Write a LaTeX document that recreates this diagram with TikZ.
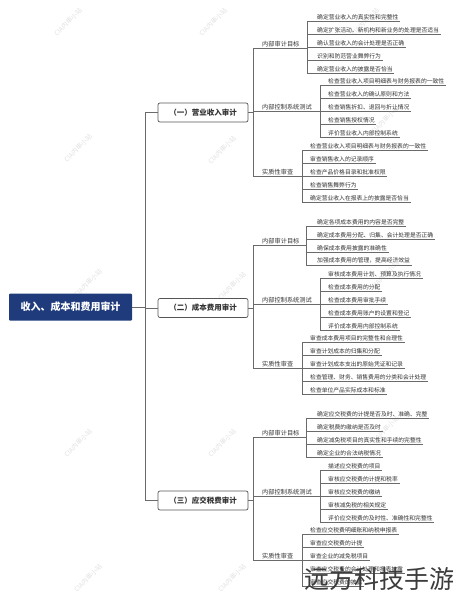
\documentclass[tikz,border=0pt]{standalone}
\usepackage{fontspec}
\setmainfont{Noto Sans CJK SC}
\definecolor{linec}{HTML}{6A6A6A}
\definecolor{txt}{HTML}{333333}
\definecolor{navy}{HTML}{1F3B7C}
\definecolor{secb}{HTML}{555555}
\definecolor{wmc}{HTML}{E2E2E2}
\definecolor{bigc}{HTML}{3C3C3C}
\tikzset{
  conn/.style={draw=linec, line width=0.8pt},
  ul/.style={draw=linec, line width=0.5pt},
  leaf/.style={anchor=south west, inner xsep=1.5pt, inner ysep=1.2pt, text=txt,
    font=\fontsize{5.8}{6}\selectfont},
  subl/.style={anchor=south west, inner xsep=0pt, inner ysep=1.2pt, text=txt,
    font=\fontsize{6.2}{7}\selectfont},
  secbox/.style={draw=secb, line width=0.7pt, rounded corners=2pt, fill=white,
    minimum width=90pt, minimum height=19pt, inner sep=0pt, text=txt,
    font=\bfseries\fontsize{7.5}{9}\selectfont},
  rootbox/.style={fill=navy, rounded corners=1pt, minimum width=123pt,
    minimum height=27pt, inner sep=0pt, text=white,
    font=\bfseries\fontsize{10}{12}\selectfont},
  wmark/.style={rotate=45, text=wmc, font=\fontsize{6.5}{7}\selectfont},
  bigmark/.style={text=bigc, font=\fontsize{25}{28}\selectfont, inner sep=0pt},
}
% leaf: name, bracket x, text x, underline y, text
\newcommand\lfnode[5]{%
  \node[leaf] (#1) at (#3-1.5,#4) {#5};
  \draw[ul] (#2,#4) -- (#1.south east);}
% sub label: name, bracket x, underline y, text
\newcommand\subnode[4]{%
  \node[subl] (#1) at (262,#3) {#4};
  \draw[ul] (253,#3) -- (#2,#3);}
\begin{document}
\begin{tikzpicture}[x=1pt,y=-1pt]
\useasboundingbox[fill=white] (0,0) rectangle (456,600);
% faint watermarks
\foreach \p in {(68,22),(213,22),(365,22),(78,148),(222,150),(385,120),
  (88,283),(232,286),(385,275),(78,443),(222,443),(385,430),(88,578),(232,578)}
  \node[wmark] at \p {CIA内审小站};

% root and sections
\node[rootbox] (root) at (70.5,307) {收入、成本和费用审计};
\node[secbox] (s1) at (203,112.5) {（一）营业收入审计};
\node[secbox] (s2) at (203,308) {（二）成本费用审计};
\node[secbox] (s3) at (203,500.5) {（三）应交税费审计};
\coordinate (mtop) at (145,112.5);
\coordinate (mbot) at (145,500.5);
\draw[conn] (mtop) -- (mbot);
\draw[conn] (root.east) -- (145,307);
\draw[conn] (mtop) -- (s1.west);
\draw[conn] (145,308) -- (s2.west);
\draw[conn] (mbot) -- (s3.west);

% ===== Section 1 =====
\draw[conn] (s1.east) -- (253,112.5);
\draw[ul] (253,48) -- (253,176);
\subnode{a1}{307}{48}{内部审计目标}
\draw[ul] (307,21) -- (307,73);
\lfnode{a11}{307}{317}{21}{确定营业收入的真实性和完整性}
\lfnode{a12}{307}{317}{34}{确定扩张活动、新机构和新业务的处理是否适当}
\lfnode{a13}{307}{317}{47.5}{确认营业收入的会计处理是否正确}
\lfnode{a14}{307}{317}{60}{识别和防范营业舞弊行为}
\lfnode{a15}{307}{317}{73}{确定营业收入的披露是否恰当}

\subnode{a2}{320}{111}{内部控制系统测试}
\draw[ul] (320,85) -- (320,137);
\lfnode{a21}{320}{328}{85}{检查营业收入项目明细表与财务报表的一致性}
\lfnode{a22}{320}{328}{98}{检查营业收入的确认原则和方法}
\lfnode{a23}{320}{328}{111}{检查销售折扣、退回与折让情况}
\lfnode{a24}{320}{328}{124}{检查销售授权情况}
\lfnode{a25}{320}{328}{137}{评价营业收入内部控制系统}

\subnode{a3}{302}{176}{实质性审查}
\draw[ul] (302,150) -- (302,202);
\lfnode{a31}{302}{310}{150}{检查营业收入项目明细表与财务报表的一致性}
\lfnode{a32}{302}{310}{163}{审查销售收入的记录顺序}
\lfnode{a33}{302}{310}{176}{检查产品价格目录和批准权限}
\lfnode{a34}{302}{310}{189}{检查销售舞弊行为}
\lfnode{a35}{302}{310}{202}{确定营业收入在报表上的披露是否恰当}

% ===== Section 2 =====
\draw[conn] (s2.east) -- (253,308);
\draw[ul] (253,245.5) -- (253,368);
\subnode{b1}{306}{245.5}{内部审计目标}
\draw[ul] (306,226) -- (306,265);
\lfnode{b11}{306}{317}{226}{确定各项成本费用的内容是否完整}
\lfnode{b12}{306}{317}{239}{确定成本费用分配、归集、会计处理是否正确}
\lfnode{b13}{306}{317}{252}{确保成本费用披露的准确性}
\lfnode{b14}{306}{317}{265}{加强成本费用的管理，提高经济效益}

\subnode{b2}{320}{304}{内部控制系统测试}
\draw[ul] (320,278) -- (320,330);
\lfnode{b21}{320}{328}{278}{审核成本费用计划、预算及执行情况}
\lfnode{b22}{320}{328}{291}{检查成本费用的分配}
\lfnode{b23}{320}{328}{304}{检查成本费用审批手续}
\lfnode{b24}{320}{328}{317}{检查成本费用账户的设置和登记}
\lfnode{b25}{320}{328}{330}{评价成本费用内部控制系统}

\subnode{b3}{302}{368}{实质性审查}
\draw[ul] (302,342) -- (302,394);
\lfnode{b31}{302}{310}{342}{审查成本费用项目的完整性和合理性}
\lfnode{b32}{302}{310}{355}{审查计划成本的归集和分配}
\lfnode{b33}{302}{310}{368}{审查计划成本支出的原始凭证和记录}
\lfnode{b34}{302}{310}{381}{检查管理、财务、销售费用的分类和会计处理}
\lfnode{b35}{302}{310}{394}{检查单位产品实际成本和标准}

% ===== Section 3 =====
\draw[conn] (s3.east) -- (253,500.5);
\draw[ul] (253,437.5) -- (253,560);
\subnode{c1}{306}{437.5}{内部审计目标}
\draw[ul] (306,418) -- (306,457);
\lfnode{c11}{306}{317}{418}{确定应交税费的计提是否及时、准确、完整}
\lfnode{c12}{306}{317}{431}{确定税费的缴纳是否及时}
\lfnode{c13}{306}{317}{444}{确定减免税项目的真实性和手续的完整性}
\lfnode{c14}{306}{317}{457}{确定企业的合法纳税情况}

\subnode{c2}{320}{496}{内部控制系统测试}
\draw[ul] (320,470) -- (320,522);
\lfnode{c21}{320}{328}{470}{描述应交税费的项目}
\lfnode{c22}{320}{328}{483}{审核应交税费的计提和税率}
\lfnode{c23}{320}{328}{496}{审核应交税费的缴纳}
\lfnode{c24}{320}{328}{509}{审核减免税的相关规定}
\lfnode{c25}{320}{328}{522}{评价应交税费的及时性、准确性和完整性}

\subnode{c3}{302}{560}{实质性审查}
\draw[ul] (302,534) -- (302,586);
\lfnode{c31}{302}{310}{534}{检查应交税费明细账和纳税申报表}
\lfnode{c32}{302}{310}{547}{审查应交税费的计提}
\lfnode{c33}{302}{310}{560}{审查企业的减免税项目}
\lfnode{c34}{302}{310}{573}{审查应交税费的会计处理和报表披露}
\lfnode{c35}{302}{310}{586}{审查应交税费的披露}

% big overlay mark
\node[bigmark] (big) at (379,579) {远方科技手游};
\end{tikzpicture}
\end{document}
